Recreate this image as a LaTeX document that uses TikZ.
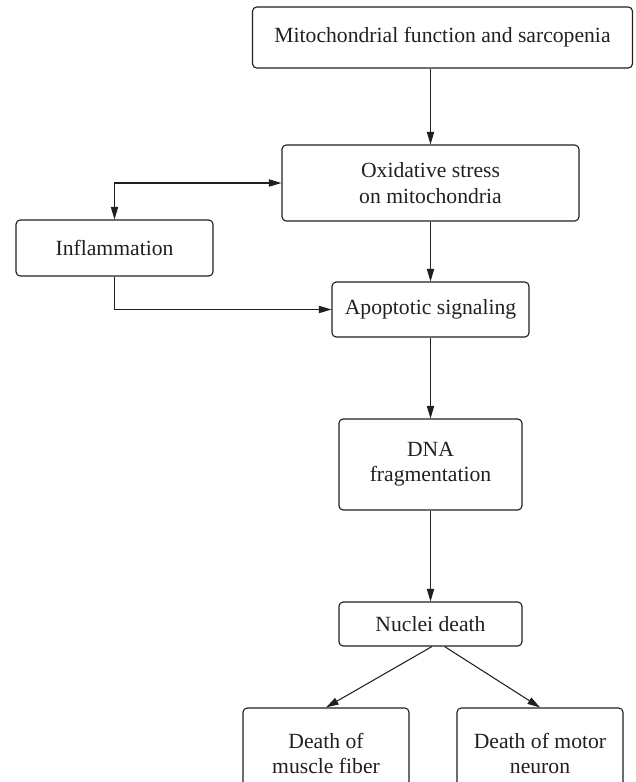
\documentclass[tikz,border=0pt]{standalone}
\usepackage{fontspec}
\setmainfont{Liberation Serif}
\usepackage{tikz, xcolor}
\usetikzlibrary{shapes,arrows.meta}
\definecolor{inkgray}{HTML}{231F20}
\begin{document}
\begin{tikzpicture}[x=0.025cm, y=-0.025cm, line width=0.75pt, color=inkgray]
\tikzstyle{boxr}=[rectangle, draw=inkgray, rounded corners=3pt, line width=0.8pt, inner sep=2pt, align=center, font=\fontsize{15.4}{18}\selectfont]
\tikzstyle{drawstyle}=[-{Triangle[length=9pt, width=5.2pt]}]
\tikzstyle{bothstyle}=[{Triangle[length=9pt, width=5.2pt]}-{Triangle[length=9pt, width=5.2pt]}]
\clip (0,0) rectangle (636,782);

\node[boxr, minimum width=380*0.025cm, minimum height=61*0.025cm] (mito) at (442.5,37.5) {Mitochondrial function and sarcopenia};
\node[boxr, minimum width=297*0.025cm, minimum height=76*0.025cm] (oxid) at (430.5,183) {Oxidative stress\\on mitochondria};
\node[boxr, minimum width=197*0.025cm, minimum height=56*0.025cm] (infl) at (114.5,248) {Inflammation};
\node[boxr, minimum width=197*0.025cm, minimum height=55*0.025cm] (apop) at (430.5,309.5) {Apoptotic signaling};
\node[boxr, minimum width=183*0.025cm, minimum height=91*0.025cm] (dna) at (430.5,464.5) {DNA\\fragmentation};
\node[boxr, minimum width=183*0.025cm, minimum height=44*0.025cm] (nucl) at (430.5,624) {Nuclei death};
\node[boxr, minimum width=166*0.025cm, minimum height=91*0.025cm] (musc) at (326,753.5) {Death of\\muscle fiber};
\node[boxr, minimum width=166*0.025cm, minimum height=91*0.025cm] (motr) at (540,753.5) {Death of motor\\neuron};

\draw[drawstyle] (oxid.north |- mito.south) -- (oxid.north);
\draw[bothstyle] (infl.north) |- (oxid.west);
\draw[drawstyle] (infl.south) |- (apop.west);
\draw[drawstyle] (oxid.south) -- (apop.north);
\draw[drawstyle] (apop.south) -- (dna.north);
\draw[drawstyle] (dna.south) -- (nucl.north);
\draw[drawstyle] ([xshift=1pt]nucl.south) -- (musc.north);
\draw[drawstyle] ([xshift=10pt]nucl.south) -- (motr.north);
\end{tikzpicture}
\end{document}
